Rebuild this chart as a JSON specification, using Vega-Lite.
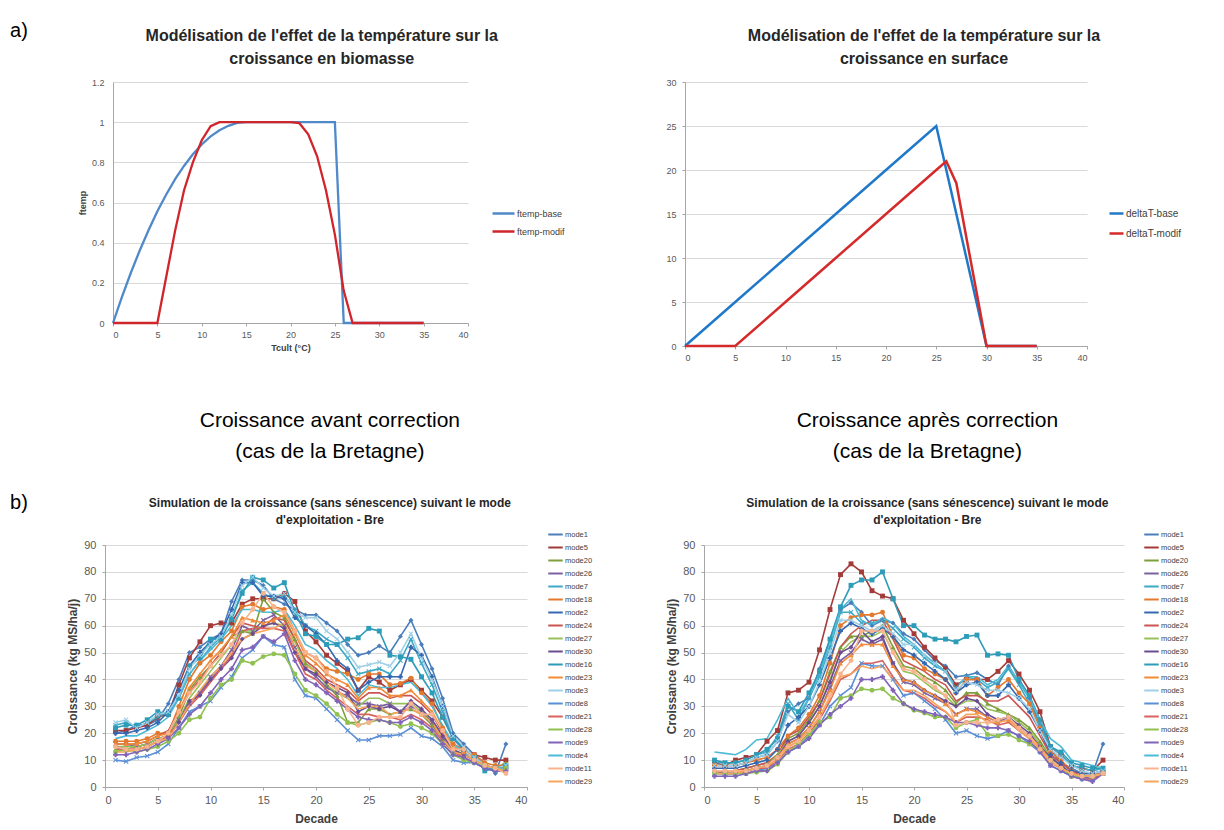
{
"$schema": "https://vega.github.io/schema/vega-lite/v6.json",
"background": "white",
"padding": {"left": 8, "top": 20, "right": 0, "bottom": 0},
"spacing": 48,
"resolve": {"scale": {"color": "independent", "shape": "independent"}, "legend": {"color": "independent", "shape": "independent"}},
"datasets": {
"biomasse": [
{"T":0,"ftemp-base":0,"ftemp-modif":0},{"T":1,"ftemp-base":0.129,"ftemp-modif":0},{"T":2,"ftemp-base":0.249,"ftemp-modif":0},{"T":3,"ftemp-base":0.36,"ftemp-modif":0},{"T":4,"ftemp-base":0.462,"ftemp-modif":0},{"T":5,"ftemp-base":0.556,"ftemp-modif":0},{"T":6,"ftemp-base":0.64,"ftemp-modif":0.23},{"T":7,"ftemp-base":0.716,"ftemp-modif":0.46},{"T":8,"ftemp-base":0.782,"ftemp-modif":0.66},{"T":9,"ftemp-base":0.84,"ftemp-modif":0.8},{"T":10,"ftemp-base":0.889,"ftemp-modif":0.91},{"T":11,"ftemp-base":0.929,"ftemp-modif":0.98},{"T":12,"ftemp-base":0.96,"ftemp-modif":1},{"T":13,"ftemp-base":0.982,"ftemp-modif":1},{"T":14,"ftemp-base":0.996,"ftemp-modif":1},{"T":15,"ftemp-base":1,"ftemp-modif":1},{"T":16,"ftemp-base":1,"ftemp-modif":1},{"T":17,"ftemp-base":1,"ftemp-modif":1},{"T":18,"ftemp-base":1,"ftemp-modif":1},{"T":19,"ftemp-base":1,"ftemp-modif":1},{"T":20,"ftemp-base":1,"ftemp-modif":1},{"T":21,"ftemp-base":1,"ftemp-modif":0.995},{"T":22,"ftemp-base":1,"ftemp-modif":0.94},{"T":23,"ftemp-base":1,"ftemp-modif":0.83},{"T":24,"ftemp-base":1,"ftemp-modif":0.66},{"T":25,"ftemp-base":1,"ftemp-modif":0.44},{"T":26,"ftemp-base":0,"ftemp-modif":0.16},{"T":27,"ftemp-base":0,"ftemp-modif":0},{"T":28,"ftemp-base":0,"ftemp-modif":0},{"T":29,"ftemp-base":0,"ftemp-modif":0},{"T":30,"ftemp-base":0,"ftemp-modif":0},{"T":31,"ftemp-base":0,"ftemp-modif":0},{"T":32,"ftemp-base":0,"ftemp-modif":0},{"T":33,"ftemp-base":0,"ftemp-modif":0},{"T":34,"ftemp-base":0,"ftemp-modif":0},{"T":35,"ftemp-base":0,"ftemp-modif":0}
],
"surface": [
{"T":0,"deltaT-base":0,"deltaT-modif":0},{"T":5,"deltaT-base":5,"deltaT-modif":0},{"T":10,"deltaT-base":10,"deltaT-modif":5},{"T":15,"deltaT-base":15,"deltaT-modif":10},{"T":20,"deltaT-base":20,"deltaT-modif":15},{"T":25,"deltaT-base":25,"deltaT-modif":20},{"T":26,"deltaT-base":20,"deltaT-modif":21},{"T":27,"deltaT-base":15,"deltaT-modif":18.5},{"T":28,"deltaT-base":10,"deltaT-modif":12.3},{"T":29,"deltaT-base":5,"deltaT-modif":6.2},{"T":30,"deltaT-base":0,"deltaT-modif":0},{"T":35,"deltaT-base":0,"deltaT-modif":0}
],
"avant": [
{"d":1,"m1":20,"m5":21,"m20":14,"m26":16,"m7":23,"m18":17,"m2":20,"m24":16,"m27":15,"m30":15,"m16":22,"m23":16,"m3":24,"m8":10,"m21":14,"m28":13,"m9":12,"m4":18,"m11":15,"m29":13},
{"d":2,"m1":21,"m5":21,"m20":14,"m26":16,"m7":24,"m18":17,"m2":20,"m24":16,"m27":15,"m30":14,"m16":23,"m23":16,"m3":25,"m8":9.5,"m21":14,"m28":14,"m9":12,"m4":19,"m11":14,"m29":13},
{"d":3,"m1":23,"m5":22,"m20":15,"m26":15,"m7":22,"m18":17,"m2":21,"m24":16,"m27":15,"m30":14,"m16":23,"m23":16,"m3":22,"m8":11,"m21":14,"m28":13,"m9":13,"m4":19,"m11":14,"m29":14},
{"d":4,"m1":23,"m5":23,"m20":16,"m26":16,"m7":24,"m18":18,"m2":22,"m24":17,"m27":16,"m30":15,"m16":25,"m23":17,"m3":24,"m8":11.5,"m21":15,"m28":14,"m9":14,"m4":21,"m11":15,"m29":15},
{"d":5,"m1":25,"m5":26,"m20":18,"m26":18,"m7":26,"m18":20,"m2":24,"m24":19,"m27":18,"m30":17,"m16":28,"m23":19,"m3":27,"m8":13,"m21":17,"m28":15,"m9":16,"m4":23,"m11":17,"m29":17},
{"d":6,"m1":31,"m5":27,"m20":19,"m26":19,"m7":28,"m18":20,"m2":28,"m24":21,"m27":19,"m30":19,"m16":27,"m23":20,"m3":28,"m8":16,"m21":19,"m28":17,"m9":18,"m4":26,"m11":20,"m29":18},
{"d":7,"m1":40,"m5":38,"m20":26,"m26":25,"m7":33,"m18":30,"m2":36,"m24":28,"m27":25,"m30":24,"m16":33,"m23":28,"m3":34,"m8":22,"m21":24,"m28":20,"m9":22,"m4":33,"m11":28,"m29":24},
{"d":8,"m1":50,"m5":48,"m20":36,"m26":31,"m7":42,"m18":40,"m2":45,"m24":35,"m27":33,"m30":32,"m16":45,"m23":37,"m3":44,"m8":28,"m21":30,"m28":25,"m9":27,"m4":42,"m11":35,"m29":31},
{"d":9,"m1":52,"m5":54,"m20":41,"m26":35,"m7":47,"m18":46,"m2":50,"m24":40,"m27":38,"m30":34,"m16":48,"m23":42,"m3":49,"m8":30,"m21":34,"m28":26,"m9":30,"m4":47,"m11":39,"m29":36},
{"d":10,"m1":55,"m5":60,"m20":45,"m26":41,"m7":52,"m18":49,"m2":54,"m24":45,"m27":43,"m30":40,"m16":55,"m23":47,"m3":53,"m8":32,"m21":39,"m28":33,"m9":35,"m4":51,"m11":45,"m29":41},
{"d":11,"m1":57,"m5":61,"m20":50,"m26":45,"m7":56,"m18":54,"m2":57,"m24":50,"m27":48,"m30":44,"m16":55,"m23":51,"m3":56,"m8":37,"m21":44,"m28":38,"m9":40,"m4":55,"m11":49,"m29":45},
{"d":12,"m1":69,"m5":61,"m20":56,"m26":51,"m7":62,"m18":58,"m2":66,"m24":56,"m27":53,"m30":48,"m16":63,"m23":56,"m3":64,"m8":41,"m21":49,"m28":40,"m9":44,"m4":60,"m11":53,"m29":50},
{"d":13,"m1":77,"m5":68,"m20":58,"m26":60,"m7":73,"m18":67,"m2":76,"m24":61,"m27":58,"m30":55,"m16":72,"m23":63,"m3":75,"m8":48,"m21":58,"m28":47,"m9":51,"m4":66,"m11":61,"m29":55},
{"d":14,"m1":77,"m5":70,"m20":57,"m26":58,"m7":76,"m18":68,"m2":76,"m24":60,"m27":58,"m30":57,"m16":78,"m23":62,"m3":78,"m8":51,"m21":59,"m28":46,"m9":52,"m4":66,"m11":66,"m29":57},
{"d":15,"m1":75,"m5":70,"m20":70,"m26":62,"m7":72,"m18":66,"m2":71,"m24":59,"m27":60,"m30":60,"m16":77,"m23":61,"m3":74,"m8":56,"m21":59,"m28":48.5,"m9":56,"m4":65,"m11":72,"m29":58},
{"d":16,"m1":70,"m5":70,"m20":65,"m26":64,"m7":70,"m18":67,"m2":71,"m24":63,"m27":61,"m30":61,"m16":74,"m23":62,"m3":71,"m8":53,"m21":59,"m28":49.5,"m9":54,"m4":65,"m11":67,"m29":59},
{"d":17,"m1":68,"m5":72,"m20":63,"m26":60,"m7":71,"m18":66,"m2":70,"m24":62,"m27":60,"m30":59,"m16":76,"m23":64,"m3":72,"m8":52,"m21":58,"m28":49,"m9":57,"m4":66,"m11":65,"m29":61},
{"d":18,"m1":66,"m5":69,"m20":55,"m26":52,"m7":66,"m18":58,"m2":63,"m24":55,"m27":54,"m30":50,"m16":65,"m23":57,"m3":65,"m8":40,"m21":50,"m28":42,"m9":47,"m4":60,"m11":58,"m29":52},
{"d":19,"m1":64,"m5":58,"m20":46,"m26":44,"m7":60,"m18":50,"m2":60,"m24":47,"m27":46,"m30":44,"m16":57,"m23":49,"m3":63,"m8":34,"m21":42,"m28":36,"m9":40,"m4":53,"m11":50,"m29":45},
{"d":20,"m1":64,"m5":54,"m20":43,"m26":41,"m7":58,"m18":48,"m2":57,"m24":44,"m27":43,"m30":42,"m16":56,"m23":46,"m3":63,"m8":33,"m21":40,"m28":34,"m9":38,"m4":51,"m11":48,"m29":43},
{"d":21,"m1":61,"m5":49,"m20":38,"m26":37,"m7":55,"m18":44,"m2":53,"m24":40,"m27":38,"m30":39,"m16":53,"m23":42,"m3":58,"m8":29,"m21":36,"m28":31,"m9":35,"m4":47,"m11":43,"m29":39},
{"d":22,"m1":58,"m5":46,"m20":34,"m26":35,"m7":53,"m18":43,"m2":47,"m24":38,"m27":35,"m30":37,"m16":53,"m23":40,"m3":55,"m8":25,"m21":33,"m28":27,"m9":32,"m4":44,"m11":37,"m29":36},
{"d":23,"m1":53,"m5":43,"m20":24,"m26":34,"m7":48,"m18":42,"m2":44,"m24":36,"m27":33,"m30":35,"m16":55,"m23":38,"m3":50,"m8":21,"m21":30,"m28":24,"m9":29,"m4":40,"m11":29,"m29":33},
{"d":24,"m1":49,"m5":36,"m20":24,"m26":31,"m7":42,"m18":40,"m2":36,"m24":32,"m27":30,"m30":28,"m16":55.5,"m23":33,"m3":44.5,"m8":17.5,"m21":27,"m28":23,"m9":26,"m4":34,"m11":23,"m29":29},
{"d":25,"m1":50,"m5":41,"m20":29,"m26":31,"m7":43,"m18":42,"m2":39,"m24":35,"m27":33,"m30":30,"m16":59,"m23":37,"m3":45.5,"m8":17.5,"m21":27,"m28":24,"m9":25,"m4":38,"m11":24,"m29":30},
{"d":26,"m1":52.5,"m5":39,"m20":29,"m26":30,"m7":44,"m18":42,"m2":41,"m24":35,"m27":33,"m30":29,"m16":58,"m23":37,"m3":46.5,"m8":19,"m21":26,"m28":25,"m9":25,"m4":37,"m11":26,"m29":30},
{"d":27,"m1":50,"m5":36,"m20":27,"m26":31,"m7":42,"m18":38,"m2":41,"m24":33,"m27":31,"m30":30,"m16":49,"m23":34,"m3":45,"m8":19,"m21":26,"m28":24,"m9":24,"m4":37,"m11":26,"m29":27},
{"d":28,"m1":56,"m5":38,"m20":28,"m26":28,"m7":47,"m18":38.5,"m2":41,"m24":34,"m27":31,"m30":28,"m16":48.5,"m23":34,"m3":50,"m8":19.5,"m21":25,"m28":22.5,"m9":24,"m4":38,"m11":26,"m29":28},
{"d":29,"m1":62,"m5":40,"m20":29,"m26":30,"m7":55,"m18":40.5,"m2":52,"m24":34,"m27":31,"m30":32,"m16":47.5,"m23":36,"m3":57,"m8":22,"m21":27,"m28":23.5,"m9":26,"m4":39,"m11":31,"m29":29},
{"d":30,"m1":53,"m5":36,"m20":27,"m26":28,"m7":46,"m18":35,"m2":49,"m24":31,"m27":28,"m30":29,"m16":41,"m23":32,"m3":48,"m8":19,"m21":25,"m28":22,"m9":24,"m4":35,"m11":27,"m29":27},
{"d":31,"m1":44,"m5":32,"m20":23,"m26":24,"m7":38,"m18":31,"m2":41,"m24":27,"m27":25,"m30":25,"m16":35,"m23":28,"m3":40,"m8":18,"m21":22,"m28":20,"m9":21,"m4":30,"m11":27,"m29":24},
{"d":32,"m1":33,"m5":26,"m20":18,"m26":18,"m7":28,"m18":22,"m2":30,"m24":20,"m27":19,"m30":19,"m16":26,"m23":21,"m3":30,"m8":15,"m21":17,"m28":16,"m9":16,"m4":23,"m11":21,"m29":18},
{"d":33,"m1":20,"m5":18,"m20":13,"m26":13,"m7":18,"m18":16,"m2":19,"m24":14,"m27":14,"m30":14,"m16":18,"m23":15,"m3":19,"m8":10,"m21":13,"m28":12,"m9":12,"m4":16,"m11":14,"m29":13},
{"d":34,"m1":16,"m5":14,"m20":12,"m26":12,"m7":14,"m18":14,"m2":14,"m24":12,"m27":12,"m30":12,"m16":14,"m23":13,"m3":15,"m8":9,"m21":11,"m28":10,"m9":11,"m4":13,"m11":14,"m29":12},
{"d":35,"m1":12,"m5":12,"m20":10,"m26":10,"m7":11,"m18":12,"m2":11,"m24":10,"m27":10,"m30":10,"m16":11,"m23":11,"m3":11,"m8":9,"m21":9,"m28":9,"m9":9,"m4":10,"m11":10,"m29":10},
{"d":36,"m1":9,"m5":11,"m20":8,"m26":8,"m7":8,"m18":9,"m2":8,"m24":8,"m27":8,"m30":8,"m16":6,"m23":8,"m3":8,"m8":7,"m21":8,"m28":8,"m9":7,"m4":8,"m11":8,"m29":8},
{"d":37,"m1":5,"m5":10,"m20":7,"m26":7,"m7":6,"m18":8,"m2":7,"m24":7,"m27":7,"m30":7,"m16":7,"m23":7,"m3":7,"m8":6,"m21":7,"m28":7,"m9":6,"m4":7,"m11":7,"m29":7},
{"d":38,"m1":16,"m5":10,"m20":9,"m26":7,"m7":7,"m18":8,"m2":7,"m24":7,"m27":7,"m30":7,"m16":8,"m23":7,"m3":8,"m8":6,"m21":7,"m28":7,"m9":6,"m4":7,"m11":5,"m29":6}
],
"apres": [
{"d":1,"m1":8,"m5":9,"m20":6,"m26":5,"m7":9,"m18":8,"m2":7,"m24":6,"m27":6,"m30":6,"m16":10,"m23":6,"m3":8,"m8":5,"m21":5,"m28":5,"m9":4,"m4":13,"m11":6,"m29":5},
{"d":2,"m1":8,"m5":8,"m20":6,"m26":5,"m7":9,"m18":8,"m2":7,"m24":6,"m27":6,"m30":5,"m16":9,"m23":6,"m3":8,"m8":5,"m21":5,"m28":5,"m9":4,"m4":12.5,"m11":6,"m29":5},
{"d":3,"m1":8,"m5":10,"m20":6,"m26":5,"m7":9,"m18":8,"m2":7,"m24":6,"m27":6,"m30":5,"m16":9,"m23":6,"m3":8,"m8":5,"m21":5,"m28":5,"m9":4,"m4":12,"m11":6,"m29":5},
{"d":4,"m1":9,"m5":11,"m20":7,"m26":6,"m7":10,"m18":9,"m2":8,"m24":7,"m27":6,"m30":6,"m16":10,"m23":6,"m3":9,"m8":5,"m21":6,"m28":5,"m9":5,"m4":14,"m11":6,"m29":6},
{"d":5,"m1":11,"m5":12,"m20":8,"m26":7,"m7":12,"m18":10,"m2":9,"m24":8,"m27":7,"m30":7,"m16":12,"m23":7,"m3":11,"m8":6,"m21":7,"m28":5.5,"m9":6,"m4":17.5,"m11":7,"m29":7},
{"d":6,"m1":12,"m5":17,"m20":9,"m26":8,"m7":13,"m18":11,"m2":10,"m24":9,"m27":8,"m30":8,"m16":14,"m23":8,"m3":12,"m8":7,"m21":7,"m28":6,"m9":6,"m4":18,"m11":8,"m29":8},
{"d":7,"m1":17,"m5":21,"m20":12,"m26":11,"m7":19,"m18":14,"m2":14,"m24":12,"m27":12,"m30":11,"m16":18,"m23":11,"m3":17,"m8":9,"m21":10,"m28":8.5,"m9":9,"m4":25,"m11":11,"m29":10},
{"d":8,"m1":28,"m5":35,"m20":18,"m26":16,"m7":31,"m18":19,"m2":23,"m24":19,"m27":17,"m30":17,"m16":30,"m23":16,"m3":27,"m8":13,"m21":14,"m28":13,"m9":13,"m4":33,"m11":15,"m29":15},
{"d":9,"m1":31,"m5":36,"m20":20,"m26":18,"m7":25,"m18":22,"m2":26,"m24":21,"m27":19,"m30":19,"m16":28,"m23":18,"m3":24,"m8":15,"m21":16,"m28":16,"m9":15,"m4":27,"m11":17,"m29":17},
{"d":10,"m1":33,"m5":39,"m20":25,"m26":22,"m7":33,"m18":27,"m2":30,"m24":26,"m27":24,"m30":24,"m16":35,"m23":22,"m3":30,"m8":19,"m21":20,"m28":19.5,"m9":18,"m4":33,"m11":21,"m29":21},
{"d":11,"m1":44,"m5":51,"m20":32,"m26":28,"m7":41,"m18":34,"m2":38,"m24":32,"m27":30,"m30":30,"m16":43,"m23":28,"m3":39,"m8":23,"m21":25,"m28":24,"m9":23,"m4":42,"m11":26,"m29":26},
{"d":12,"m1":55,"m5":66,"m20":43,"m26":37,"m7":52,"m18":46,"m2":48,"m24":42,"m27":40,"m30":39,"m16":55,"m23":36,"m3":50,"m8":30,"m21":32,"m28":26,"m9":27,"m4":53,"m11":34,"m29":33},
{"d":13,"m1":66,"m5":79,"m20":52,"m26":47,"m7":65,"m18":60,"m2":58,"m24":52,"m27":50,"m30":50,"m16":67,"m23":46,"m3":62,"m8":34,"m21":40,"m28":33,"m9":30,"m4":66,"m11":42,"m29":41},
{"d":14,"m1":68.5,"m5":83,"m20":56,"m26":50,"m7":65,"m18":63,"m2":61,"m24":57,"m27":54,"m30":52,"m16":75,"m23":49,"m3":62,"m8":37,"m21":42,"m28":34,"m9":33,"m4":70,"m11":47,"m29":42},
{"d":15,"m1":65,"m5":80,"m20":56,"m26":55,"m7":61,"m18":64,"m2":59,"m24":60,"m27":56,"m30":58,"m16":77,"m23":53,"m3":60,"m8":46,"m21":46,"m28":36.5,"m9":40,"m4":62,"m11":58,"m29":45},
{"d":16,"m1":60,"m5":73,"m20":58,"m26":53,"m7":61,"m18":64,"m2":57,"m24":62,"m27":56,"m30":54,"m16":77,"m23":53,"m3":58,"m8":45,"m21":46,"m28":36,"m9":40,"m4":60,"m11":58,"m29":44},
{"d":17,"m1":62,"m5":71,"m20":60,"m26":55,"m7":62,"m18":65,"m2":59,"m24":62,"m27":58,"m30":56,"m16":80,"m23":53,"m3":60,"m8":45,"m21":47,"m28":36.5,"m9":41,"m4":63,"m11":58,"m29":45},
{"d":18,"m1":61,"m5":70,"m20":52,"m26":46,"m7":59,"m18":56,"m2":56,"m24":55,"m27":50,"m30":46,"m16":70,"m23":45,"m3":57,"m8":40,"m21":41,"m28":33,"m9":36,"m4":61,"m11":50,"m29":40},
{"d":19,"m1":57,"m5":62,"m20":45,"m26":39,"m7":55,"m18":49,"m2":51,"m24":47,"m27":43,"m30":40,"m16":60,"m23":40,"m3":53,"m8":34,"m21":36,"m28":31,"m9":31,"m4":56,"m11":44,"m29":36},
{"d":20,"m1":55,"m5":57,"m20":44,"m26":38,"m7":52,"m18":48,"m2":49,"m24":45,"m27":42,"m30":39,"m16":60,"m23":39,"m3":53,"m8":35,"m21":35,"m28":28.5,"m9":29,"m4":53,"m11":43,"m29":36},
{"d":21,"m1":51,"m5":52,"m20":41,"m26":35,"m7":48,"m18":44,"m2":46,"m24":43,"m27":39,"m30":36,"m16":56.5,"m23":36,"m3":49,"m8":32,"m21":33,"m28":27.5,"m9":28,"m4":49,"m11":40,"m29":34},
{"d":22,"m1":47,"m5":48,"m20":39,"m26":33,"m7":45,"m18":42,"m2":43,"m24":40,"m27":36,"m30":34,"m16":55,"m23":34,"m3":46,"m8":29,"m21":30,"m28":26,"m9":27,"m4":46,"m11":37,"m29":31},
{"d":23,"m1":45,"m5":44,"m20":36,"m26":31,"m7":43,"m18":40,"m2":40,"m24":38,"m27":34,"m30":32,"m16":55,"m23":31,"m3":43,"m8":25,"m21":28,"m28":26,"m9":26,"m4":43,"m11":34,"m29":28},
{"d":24,"m1":41,"m5":38,"m20":31,"m26":27,"m7":37,"m18":35,"m2":35,"m24":32,"m27":30,"m30":30,"m16":54,"m23":27,"m3":36,"m8":20,"m21":24,"m28":22,"m9":24,"m4":37,"m11":23,"m29":24},
{"d":25,"m1":41.5,"m5":40,"m20":35,"m26":29,"m7":41,"m18":40,"m2":38,"m24":34,"m27":32,"m30":33,"m16":56,"m23":29,"m3":39,"m8":21,"m21":26,"m28":24,"m9":24,"m4":41,"m11":24,"m29":27},
{"d":26,"m1":42.5,"m5":40,"m20":35,"m26":29,"m7":40,"m18":40,"m2":39,"m24":34,"m27":32,"m30":32,"m16":56.5,"m23":28,"m3":38,"m8":19,"m21":26,"m28":25,"m9":23,"m4":41,"m11":24,"m29":27},
{"d":27,"m1":40,"m5":40,"m20":31,"m26":26,"m7":37,"m18":34,"m2":34,"m24":32,"m27":29,"m30":27,"m16":49,"m23":26,"m3":36,"m8":18,"m21":25,"m28":19.5,"m9":22,"m4":38,"m11":24,"m29":24},
{"d":28,"m1":38,"m5":43,"m20":29,"m26":24,"m7":39,"m18":37,"m2":34,"m24":32,"m27":28,"m30":25,"m16":49.5,"m23":24,"m3":36,"m8":19,"m21":23,"m28":19,"m9":22,"m4":40,"m11":25,"m29":24},
{"d":29,"m1":45,"m5":47,"m20":27,"m26":26,"m7":44,"m18":40,"m2":38,"m24":34,"m27":27,"m30":26,"m16":49,"m23":25,"m3":35,"m8":21,"m21":24,"m28":19.5,"m9":21,"m4":45,"m11":26,"m29":25},
{"d":30,"m1":39,"m5":42,"m20":25,"m26":22,"m7":38,"m18":35,"m2":33,"m24":30,"m27":24,"m30":23,"m16":40,"m23":22,"m3":33,"m8":19,"m21":21,"m28":17.5,"m9":19,"m4":39,"m11":22,"m29":21},
{"d":31,"m1":33,"m5":36,"m20":22,"m26":19,"m7":31,"m18":31,"m2":28,"m24":26,"m27":21,"m30":20,"m16":34,"m23":19,"m3":29,"m8":16,"m21":18,"m28":16,"m9":17,"m4":33,"m11":19,"m29":18},
{"d":32,"m1":23,"m5":28,"m20":17,"m26":15,"m7":23,"m18":22,"m2":21,"m24":19,"m27":16,"m30":15,"m16":25,"m23":15,"m3":21,"m8":13,"m21":14,"m28":14,"m9":13,"m4":25,"m11":14,"m29":14},
{"d":33,"m1":14,"m5":15,"m20":11,"m26":10,"m7":15,"m18":13,"m2":12,"m24":12,"m27":11,"m30":11,"m16":15,"m23":10,"m3":14,"m8":8,"m21":9,"m28":10,"m9":8,"m4":18,"m11":10,"m29":9},
{"d":34,"m1":9,"m5":12,"m20":8,"m26":7,"m7":12,"m18":10,"m2":9,"m24":9,"m27":8,"m30":8,"m16":13,"m23":7,"m3":11,"m8":6,"m21":7,"m28":7,"m9":6,"m4":15,"m11":7,"m29":7},
{"d":35,"m1":7,"m5":8,"m20":5,"m26":5,"m7":8,"m18":6,"m2":6,"m24":6,"m27":5,"m30":5,"m16":9,"m23":5,"m3":8,"m8":4,"m21":4,"m28":4,"m9":4,"m4":10,"m11":5,"m29":5},
{"d":36,"m1":5,"m5":7,"m20":4,"m26":4,"m7":7,"m18":5,"m2":5,"m24":4,"m27":4,"m30":4,"m16":8,"m23":4,"m3":6,"m8":3,"m21":3,"m28":4,"m9":3,"m4":9,"m11":4,"m29":4},
{"d":37,"m1":5,"m5":6,"m20":4,"m26":3,"m7":6,"m18":5,"m2":5,"m24":4,"m27":4,"m30":4,"m16":7,"m23":4,"m3":5,"m8":3,"m21":3,"m28":4,"m9":2,"m4":8,"m11":4,"m29":4},
{"d":38,"m1":16,"m5":10,"m20":5,"m26":5,"m7":7,"m18":6,"m2":6,"m24":6,"m27":5,"m30":5,"m16":7,"m23":5,"m3":6,"m8":5,"m21":5,"m28":5,"m9":5,"m4":7,"m11":5,"m29":5}
]
},
"vconcat": [
{
"spacing": 48,
"resolve": {"scale": {"color": "independent", "shape": "independent"}, "legend": {"color": "independent", "shape": "independent"}},
"hconcat": [
{"width": 22, "height": 1, "title": {"text": "a)", "font": "Liberation Sans", "fontWeight": "normal", "fontSize": 20, "color": "#000", "anchor": "middle", "offset": 36}, "data": {"values": [{"t": ""}]}, "mark": {"type": "text"}, "encoding": {"text": {"field": "t"}}},
{
"spacing": 100,
"resolve": {"scale": {"color": "independent", "shape": "independent"}, "legend": {"color": "independent", "shape": "independent"}},
"hconcat": [
{
"width": 355, "height": 241,
"title": {"text": ["Modélisation de l'effet de la température sur la", "croissance en biomasse"], "fontSize": 16, "lineHeight": 23, "anchor": "middle", "frame": "bounds", "offset": 11},
"data": {"name": "biomasse"},
"transform": [{"fold": ["ftemp-base", "ftemp-modif"], "as": ["serie", "val"]}],
"mark": {"type": "line", "strokeWidth": 2.3},
"encoding": {
"x": {"field": "T", "type": "quantitative", "scale": {"domain": [0, 40], "nice": false}, "axis": {"values": [0,5,10,15,20,25,30,35,40], "title": "Tcult (°C)", "titlePadding": 4, "labelPadding": 4}},
"y": {"field": "val", "type": "quantitative", "scale": {"domain": [0, 1.2], "nice": false}, "axis": {"values": [0,0.2,0.4,0.6,0.8,1,1.2], "format": "~g", "title": "ftemp", "tickSize": 0, "labelPadding": 9, "titlePadding": 4}},
"color": {"field": "serie", "type": "nominal", "scale": {"domain": ["ftemp-base", "ftemp-modif"], "range": ["#5089C9", "#D0252B"]}, "legend": {"orient": "none", "legendX": 378, "legendY": 119, "symbolType": "stroke", "symbolSize": 484, "symbolStrokeWidth": 2.5, "rowPadding": -2, "labelFontSize": 9, "labelOffset": 1}}
}
},
{
"width": 402, "height": 264,
"title": {"text": ["Modélisation de l'effet de la température sur la", "croissance en surface"], "fontSize": 16, "lineHeight": 23, "anchor": "middle", "frame": "bounds", "offset": 11},
"data": {"name": "surface"},
"transform": [{"fold": ["deltaT-base", "deltaT-modif"], "as": ["serie", "val"]}],
"mark": {"type": "line", "strokeWidth": 2.5},
"encoding": {
"x": {"field": "T", "type": "quantitative", "scale": {"domain": [0, 40], "nice": false}, "axis": {"values": [0,5,10,15,20,25,30,35,40], "title": null, "labelPadding": 4}},
"y": {"field": "val", "type": "quantitative", "scale": {"domain": [0, 30], "nice": false}, "axis": {"values": [0,5,10,15,20,25,30], "title": null, "labelPadding": 6}},
"color": {"field": "serie", "type": "nominal", "scale": {"domain": ["deltaT-base", "deltaT-modif"], "range": ["#1F78C8", "#D42A2A"]}, "legend": {"orient": "none", "legendX": 423, "legendY": 123, "symbolType": "stroke", "symbolSize": 196, "symbolStrokeWidth": 2.5, "rowPadding": 6, "labelFontSize": 10, "labelOffset": 1}}
}
}
]
}
]
},
{
"spacing": 36,
"resolve": {"scale": {"color": "independent", "shape": "independent"}, "legend": {"color": "independent", "shape": "independent"}},
"hconcat": [
{"width": 22, "height": 1, "title": {"text": "b)", "font": "Liberation Sans", "fontWeight": "normal", "fontSize": 20, "color": "#000", "anchor": "middle", "offset": 27}, "data": {"values": [{"t": ""}]}, "mark": {"type": "text"}, "encoding": {"text": {"field": "t"}}},
{
"spacing": 72,
"resolve": {"scale": {"color": "independent", "shape": "independent"}, "legend": {"color": "independent", "shape": "independent"}},
"hconcat": [
{
"width": 422, "height": 242,
"title": {"text": ["Croissance avant correction", "(cas de la Bretagne)"], "font": "Liberation Sans", "fontWeight": "normal", "fontSize": 21, "lineHeight": 31, "color": "#000", "subtitle": ["Simulation de la croissance (sans sénescence) suivant le mode", "d'exploitation - Bre"], "subtitleFont": "Liberation Sans", "subtitleFontWeight": "bold", "subtitleFontSize": 12, "subtitleLineHeight": 17, "subtitleColor": "#262626", "subtitlePadding": 36, "anchor": "middle", "frame": "bounds", "offset": 0},
"data": {"name": "avant"},
"transform": [{"fold": ["m1","m5","m20","m26","m7","m18","m2","m24","m27","m30","m16","m23","m3","m8","m21","m28","m9","m4","m11","m29"], "as": ["mode", "v"]}],
"encoding": {
"x": {"field": "d", "type": "quantitative", "scale": {"domain": [0, 40], "nice": false}, "axis": {"values": [0,5,10,15,20,25,30,35,40], "title": "Decade", "labelFontSize": 11, "titleFontSize": 12, "labelPadding": 4, "titlePadding": 8}},
"y": {"field": "v", "type": "quantitative", "scale": {"domain": [0, 90], "nice": false}, "axis": {"values": [0,10,20,30,40,50,60,70,80,90], "title": "Croissance (kg MS/ha/j)", "labelFontSize": 11, "titleFontSize": 12, "labelPadding": 6, "titlePadding": 4}},
"color": {"field": "mode", "type": "nominal", "scale": {"domain": ["m1","m5","m20","m26","m7","m18","m2","m24","m27","m30","m16","m23","m3","m8","m21","m28","m9","m4","m11","m29"], "range": ["#4A7EBB","#A33B39","#7F9F3F","#7B60A0","#3FA8C4","#E2792D","#3667B1","#CB5551","#98C05A","#6B4C93","#2D9CB8","#F08B39","#9FD0E6","#5B8FD6","#D9625E","#90C151","#8163B7","#4DBAD6","#F9B48E","#F7A45C"]}}
},
"layer": [
{"mark": {"type": "line", "strokeWidth": 1.6}, "encoding": {"color": {"field": "mode", "type": "nominal", "legend": {"orient": "none", "legendX": 442, "legendY": -19, "symbolType": "stroke", "symbolSize": 210, "symbolStrokeWidth": 2, "rowPadding": 0, "labelFontSize": 7.5, "labelOffset": 1, "labelExpr": "'mode' + slice(datum.label, 1)"}}}},
{"transform": [{"filter": {"field": "mode", "oneOf": ["m1","m5","m20","m26","m7","m18","m2","m30","m16","m23","m3","m8","m28","m9","m11"]}}], "mark": {"type": "point", "filled": true, "size": 24, "opacity": 1}, "encoding": {"color": {"field": "mode", "type": "nominal", "legend": null}, "shape": {"field": "mode", "type": "nominal", "legend": null, "scale": {"domain": ["m1","m5","m20","m26","m7","m18","m2","m30","m16","m23","m3","m8","m28","m9","m11"], "range": ["diamond","square","triangle-up","M-1,-0.7L-0.7,-1L0,-0.3L0.7,-1L1,-0.7L0.3,0L1,0.7L0.7,1L0,0.3L-0.7,1L-1,0.7L-0.3,0Z","M-1,-0.7L-0.7,-1L0,-0.3L0.7,-1L1,-0.7L0.3,0L1,0.7L0.7,1L0,0.3L-0.7,1L-1,0.7L-0.3,0Z","circle","cross","diamond","square","triangle-up","M-1,-0.7L-0.7,-1L0,-0.3L0.7,-1L1,-0.7L0.3,0L1,0.7L0.7,1L0,0.3L-0.7,1L-1,0.7L-0.3,0Z","M-1,-0.7L-0.7,-1L0,-0.3L0.7,-1L1,-0.7L0.3,0L1,0.7L0.7,1L0,0.3L-0.7,1L-1,0.7L-0.3,0Z","circle","cross","circle"]}}}}
]
},
{
"width": 420, "height": 242,
"title": {"text": ["Croissance après correction", "(cas de la Bretagne)"], "font": "Liberation Sans", "fontWeight": "normal", "fontSize": 21, "lineHeight": 31, "color": "#000", "subtitle": ["Simulation de la croissance (sans sénescence) suivant le mode", "d'exploitation - Bre"], "subtitleFont": "Liberation Sans", "subtitleFontWeight": "bold", "subtitleFontSize": 12, "subtitleLineHeight": 17, "subtitleColor": "#262626", "subtitlePadding": 36, "anchor": "middle", "frame": "bounds", "offset": 0},
"data": {"name": "apres"},
"transform": [{"fold": ["m1","m5","m20","m26","m7","m18","m2","m24","m27","m30","m16","m23","m3","m8","m21","m28","m9","m4","m11","m29"], "as": ["mode", "v"]}],
"encoding": {
"x": {"field": "d", "type": "quantitative", "scale": {"domain": [0, 40], "nice": false}, "axis": {"values": [0,5,10,15,20,25,30,35,40], "title": "Decade", "labelFontSize": 11, "titleFontSize": 12, "labelPadding": 4, "titlePadding": 8}},
"y": {"field": "v", "type": "quantitative", "scale": {"domain": [0, 90], "nice": false}, "axis": {"values": [0,10,20,30,40,50,60,70,80,90], "title": "Croissance (kg MS/ha/j)", "labelFontSize": 11, "titleFontSize": 12, "labelPadding": 6, "titlePadding": 4}},
"color": {"field": "mode", "type": "nominal", "scale": {"domain": ["m1","m5","m20","m26","m7","m18","m2","m24","m27","m30","m16","m23","m3","m8","m21","m28","m9","m4","m11","m29"], "range": ["#4A7EBB","#A33B39","#7F9F3F","#7B60A0","#3FA8C4","#E2792D","#3667B1","#CB5551","#98C05A","#6B4C93","#2D9CB8","#F08B39","#9FD0E6","#5B8FD6","#D9625E","#90C151","#8163B7","#4DBAD6","#F9B48E","#F7A45C"]}}
},
"layer": [
{"mark": {"type": "line", "strokeWidth": 1.6}, "encoding": {"color": {"field": "mode", "type": "nominal", "legend": {"orient": "none", "legendX": 439, "legendY": -19, "symbolType": "stroke", "symbolSize": 210, "symbolStrokeWidth": 2, "rowPadding": 0, "labelFontSize": 7.5, "labelOffset": 1, "labelExpr": "'mode' + slice(datum.label, 1)"}}}},
{"transform": [{"filter": {"field": "mode", "oneOf": ["m1","m5","m20","m26","m7","m18","m2","m30","m16","m23","m3","m8","m28","m9","m11"]}}], "mark": {"type": "point", "filled": true, "size": 24, "opacity": 1}, "encoding": {"color": {"field": "mode", "type": "nominal", "legend": null}, "shape": {"field": "mode", "type": "nominal", "legend": null, "scale": {"domain": ["m1","m5","m20","m26","m7","m18","m2","m30","m16","m23","m3","m8","m28","m9","m11"], "range": ["diamond","square","triangle-up","M-1,-0.7L-0.7,-1L0,-0.3L0.7,-1L1,-0.7L0.3,0L1,0.7L0.7,1L0,0.3L-0.7,1L-1,0.7L-0.3,0Z","M-1,-0.7L-0.7,-1L0,-0.3L0.7,-1L1,-0.7L0.3,0L1,0.7L0.7,1L0,0.3L-0.7,1L-1,0.7L-0.3,0Z","circle","cross","diamond","square","triangle-up","M-1,-0.7L-0.7,-1L0,-0.3L0.7,-1L1,-0.7L0.3,0L1,0.7L0.7,1L0,0.3L-0.7,1L-1,0.7L-0.3,0Z","M-1,-0.7L-0.7,-1L0,-0.3L0.7,-1L1,-0.7L0.3,0L1,0.7L0.7,1L0,0.3L-0.7,1L-1,0.7L-0.3,0Z","circle","cross","circle"]}}}}
]
}
]
}
]
}
],
"config": {
"view": {"stroke": null},
"font": "Liberation Sans",
"axis": {"labelFont": "Liberation Sans", "labelColor": "#595959", "labelFontSize": 9, "domainColor": "#A6A6A6", "tickColor": "#A6A6A6", "tickSize": 3, "gridColor": "#D9D9D9", "titleFont": "Liberation Sans", "titleFontWeight": "bold", "titleColor": "#404040", "titleFontSize": 9},
"axisX": {"grid": false},
"axisY": {"grid": true},
"legend": {"labelFont": "Liberation Sans", "labelColor": "#404040", "padding": 0, "title": null},
"title": {"font": "Liberation Sans", "fontWeight": "bold", "color": "#262626"}
}
}
